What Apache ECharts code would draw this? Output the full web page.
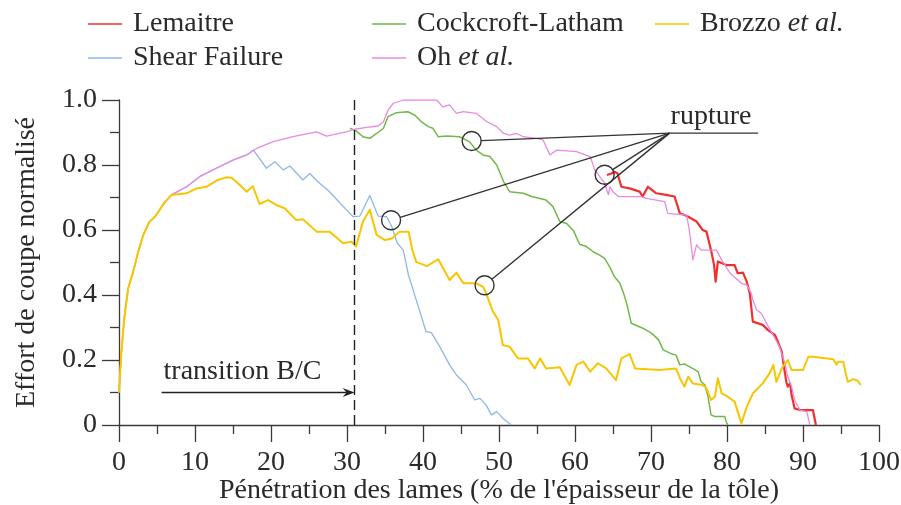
<!DOCTYPE html>
<html>
<head>
<meta charset="utf-8">
<script src="https://cdn.jsdelivr.net/npm/echarts@6/dist/echarts.min.js"></script>
<style>
  html, body { margin: 0; padding: 0; background: #fff; }
  #chart { width: 901px; height: 505px; }
</style>
</head>
<body>
<div id="chart"></div>
<script>
// ---- data: blade penetration (%) vs normalised cutting force ----
const lemaitre = [[64.2,0.769],[64.8,0.774],[65.2,0.779],[65.6,0.774],[66.1,0.733],[67.2,0.728],[68.5,0.718],[68.9,0.703],[69.6,0.733],[70.7,0.713],[72.0,0.708],[73.1,0.703],[73.8,0.651],[74.4,0.646],[74.9,0.641],[76.0,0.626],[76.8,0.6],[77.3,0.595],[77.9,0.538],[78.3,0.492],[78.5,0.441],[78.8,0.503],[79.9,0.492],[81.0,0.492],[81.4,0.467],[82.1,0.469],[82.6,0.441],[83.0,0.405],[83.4,0.318],[83.6,0.313],[84.7,0.308],[85.4,0.292],[86.3,0.277],[86.7,0.256],[87.2,0.226],[87.5,0.179],[87.8,0.133],[88.0,0.118],[88.3,0.128],[88.5,0.092],[88.9,0.051],[89.6,0.046],[91.3,0.046],[91.7,0.0]];

const shearFailure = [[0,0.1],[0.3,0.22],[0.7,0.33],[1.2,0.42],[1.9,0.475],[2.5,0.53],[3.2,0.585],[4.0,0.625],[4.7,0.64],[5.3,0.66],[6.0,0.685],[6.9,0.708],[8.9,0.733],[10.6,0.764],[12.8,0.79],[15.0,0.815],[16.8,0.831],[17.7,0.846],[19.4,0.79],[20.5,0.81],[21.6,0.785],[22.5,0.797],[24.2,0.754],[25.1,0.774],[26.4,0.744],[27.6,0.72],[28.8,0.69],[29.8,0.665],[30.8,0.641],[31.7,0.643],[33.0,0.706],[34.1,0.643],[35.2,0.641],[35.9,0.61],[36.6,0.56],[37.4,0.538],[38.1,0.46],[38.3,0.446],[39.1,0.385],[39.8,0.333],[40.4,0.287],[41.1,0.284],[42.2,0.241],[43.5,0.185],[44.4,0.154],[45.7,0.123],[46.8,0.077],[47.5,0.082],[48.3,0.062],[49.0,0.031],[49.7,0.041],[50.5,0.021],[51.6,0.0]];

const cockcroftLatham = [[30.4,0.913],[31.2,0.905],[32.1,0.887],[33.0,0.882],[33.9,0.897],[34.8,0.913],[35.4,0.949],[36.5,0.961],[38.0,0.964],[38.9,0.954],[39.8,0.933],[40.7,0.918],[41.3,0.913],[42.0,0.887],[43.1,0.889],[44.8,0.887],[46.1,0.872],[47.0,0.846],[47.9,0.831],[48.8,0.826],[49.7,0.8],[50.6,0.749],[51.4,0.718],[53.2,0.713],[54.3,0.703],[56.2,0.692],[57.1,0.672],[58.0,0.626],[58.9,0.62],[59.8,0.598],[60.6,0.556],[61.5,0.549],[62.4,0.533],[63.3,0.522],[63.9,0.513],[64.6,0.485],[65.2,0.456],[65.9,0.436],[66.4,0.405],[66.8,0.374],[67.4,0.313],[69.0,0.297],[70.1,0.282],[71.0,0.262],[71.6,0.231],[72.5,0.221],[73.3,0.215],[73.8,0.185],[74.4,0.188],[75.1,0.179],[76.2,0.164],[76.6,0.133],[77.1,0.123],[77.5,0.087],[77.9,0.031],[78.4,0.026],[79.7,0.026],[79.9,0.01],[80.1,0.0]];

const brozzo = [[0,0.1],[0.3,0.22],[0.7,0.33],[1.2,0.42],[1.9,0.475],[2.5,0.53],[3.2,0.585],[4.0,0.625],[4.7,0.64],[5.3,0.66],[6.0,0.685],[6.9,0.708],[8.9,0.713],[10.2,0.728],[11.5,0.733],[13.0,0.754],[14.1,0.762],[14.8,0.761],[15.4,0.749],[16.8,0.718],[17.6,0.735],[18.5,0.68],[19.6,0.692],[20.7,0.677],[21.8,0.667],[23.3,0.631],[24.2,0.633],[26.0,0.595],[27.7,0.595],[29.5,0.559],[30.6,0.564],[31.2,0.549],[32.1,0.626],[33.0,0.662],[33.9,0.585],[35.0,0.569],[35.9,0.574],[36.9,0.595],[38.1,0.595],[38.6,0.538],[39.1,0.502],[40.5,0.489],[42.0,0.51],[43.5,0.446],[44.4,0.469],[45.3,0.436],[47.0,0.436],[47.9,0.426],[48.3,0.405],[49.2,0.349],[49.9,0.323],[50.5,0.246],[51.4,0.241],[52.5,0.205],[53.8,0.205],[54.7,0.174],[55.4,0.205],[56.2,0.174],[58.0,0.178],[59.3,0.123],[60.2,0.185],[61.1,0.195],[62.0,0.164],[63.0,0.19],[64.1,0.174],[65.4,0.138],[66.1,0.205],[67.2,0.218],[67.9,0.174],[71.1,0.169],[73.3,0.174],[73.8,0.144],[74.4,0.118],[74.9,0.149],[75.5,0.128],[76.8,0.123],[77.3,0.113],[77.9,0.077],[78.4,0.087],[78.8,0.144],[79.3,0.097],[80.1,0.087],[81.0,0.072],[81.9,0.005],[82.6,0.056],[83.4,0.097],[84.7,0.128],[85.6,0.159],[86.1,0.185],[86.5,0.133],[87.2,0.174],[88.0,0.2],[88.5,0.169],[90.0,0.169],[90.7,0.21],[91.3,0.21],[94.0,0.202],[94.4,0.185],[94.6,0.195],[95.3,0.195],[95.6,0.161],[95.9,0.133],[96.6,0.141],[97.2,0.136],[97.6,0.123]];

const ohEtAl = [[0,0.1],[0.3,0.22],[0.7,0.33],[1.2,0.42],[1.9,0.475],[2.5,0.53],[3.2,0.585],[4.0,0.625],[4.7,0.64],[5.3,0.66],[6.0,0.685],[6.9,0.708],[8.9,0.733],[10.6,0.764],[12.8,0.79],[15.0,0.815],[16.8,0.831],[18.1,0.851],[20.3,0.872],[22.9,0.887],[26.0,0.902],[27.3,0.889],[29.9,0.902],[31.0,0.91],[32.6,0.916],[34.1,0.92],[34.8,0.933],[35.4,0.969],[36.1,0.99],[37.4,1.0],[41.8,1.0],[42.6,0.979],[43.5,0.985],[44.4,0.959],[45.3,0.964],[47.0,0.959],[48.4,0.933],[49.7,0.918],[50.6,0.897],[51.4,0.892],[52.3,0.897],[53.2,0.887],[54.9,0.882],[55.8,0.877],[56.7,0.831],[57.6,0.846],[60.2,0.841],[62.0,0.826],[62.6,0.785],[63.9,0.744],[64.4,0.708],[64.6,0.733],[65.0,0.718],[65.7,0.703],[68.7,0.703],[69.4,0.697],[71.8,0.687],[72.2,0.651],[74.7,0.646],[75.1,0.59],[75.5,0.508],[76.0,0.554],[76.6,0.538],[78.6,0.538],[79.3,0.508],[80.4,0.467],[81.2,0.451],[81.9,0.436],[82.6,0.431],[83.2,0.405],[83.4,0.385],[83.9,0.354],[84.5,0.344],[85.2,0.313],[86.3,0.267],[86.9,0.241],[87.6,0.19],[88.0,0.149],[88.5,0.118],[88.9,0.077],[89.6,0.046],[90.5,0.041],[90.9,0.0]];

// points where each criterion predicts fracture (circled)
const ruptureMarks = [[46.4,0.874],[63.9,0.77],[35.8,0.63],[48.1,0.43]];
const ruptureHub = [72.45, 0.898];
const ruptureUnderlineEnd = 84.1;
const transitionX = 31.0;
const transitionArrowStart = 5.6;
const transitionY = 0.1;

const xTicks = { min: 0, max: 100, interval: 10 };
const yTicks = { min: 0, max: 1, interval: 0.2 };

// ---- styling ----
const FONT = '"Liberation Serif", "Times New Roman", serif';
const FS = 28;
const INK = '#2a2a2a';
const AXIS = '#3a3a3a';
const C = {
  lemaitre: '#f0302e',
  shear: '#90b6ea',
  cockcroft: '#72b84a',
  brozzo: '#f7c600',
  oh: '#e98ae0'
};

const chart = echarts.init(document.getElementById('chart'), null, { renderer: 'canvas' });

const legendText = {
  fontFamily: FONT, fontSize: FS, color: INK, lineHeight: 27,
  rich: {
    n: { fontFamily: FONT, fontSize: FS, color: INK, lineHeight: 27, padding: [0, 0, 0, 6] },
    it: { fontFamily: FONT, fontSize: FS, fontStyle: 'italic', color: INK, lineHeight: 27 }
  }
};
const legendFormatter = name => {
  const m = name.match(/^(.*?)\s*et al\.$/);
  return m ? '{n|' + m[1] + ' }{it|et al.}' : '{n|' + name + '}';
};
const legendBase = {
  orient: 'vertical', top: 10, itemWidth: 34, itemHeight: 1.6, itemGap: 6,
  icon: 'rect', textStyle: legendText, formatter: legendFormatter,
  selectedMode: false, padding: 0
};

function lineSeries(name, data, color, width, z) {
  return {
    name, type: 'line', data, color, z,
    showSymbol: false, symbol: 'none', smooth: false,
    lineStyle: { color, width, join: 'round' },
    emphasis: { disabled: true }, silent: true
  };
}

const axisCommon = {
  axisLine: { show: true, lineStyle: { color: AXIS, width: 1.3 } },
  axisTick: { show: true, inside: false, length: 17, lineStyle: { color: AXIS, width: 1.3 } },
  minorTick: { show: true, splitNumber: 2, length: 9, lineStyle: { color: AXIS, width: 1.3 } },
  splitLine: { show: false },
  nameMoveOverlap: false,
  nameTextStyle: { fontFamily: FONT, fontSize: FS, color: INK }
};

const ohSeries = lineSeries('Oh et al.', ohEtAl, C.oh, 1.3, 3);
ohSeries.markLine = {
  silent: true, symbol: 'none', animation: false,
  label: { show: false },
  lineStyle: { color: '#222', width: 1.4, type: [10, 5] },
  data: [{ xAxis: transitionX }]
};

chart.setOption({
  animation: false,
  backgroundColor: '#ffffff',
  grid: { left: 119, right: 22, top: 100, bottom: 80, containLabel: false, outerBoundsMode: 'none' },
  legend: [
    Object.assign({ left: 88, data: ['Lemaitre', 'Shear Failure'] }, legendBase),
    Object.assign({ left: 372, data: ['Cockcroft-Latham', 'Oh et al.'] }, legendBase),
    Object.assign({ left: 655, data: ['Brozzo et al.'] }, legendBase)
  ],
  xAxis: Object.assign({
    type: 'value', min: xTicks.min, max: xTicks.max, interval: xTicks.interval,
    name: "Pénétration des lames (% de l'épaisseur de la tôle)",
    nameLocation: 'middle', nameGap: 52,
    axisLabel: { fontFamily: FONT, fontSize: FS, color: INK, margin: 24 }
  }, axisCommon),
  yAxis: Object.assign({
    type: 'value', min: yTicks.min, max: yTicks.max, interval: yTicks.interval,
    name: 'Effort de coupe normalisé',
    nameLocation: 'middle', nameGap: 78,
    axisLabel: {
      fontFamily: FONT, fontSize: FS, color: INK, margin: 22,
      formatter: v => (v === 0 ? '0' : v.toFixed(1))
    }
  }, axisCommon),
  series: [
    lineSeries('Lemaitre', lemaitre, C.lemaitre, 2.2, 2),
    lineSeries('Shear Failure', shearFailure, C.shear, 1.3, 2),
    lineSeries('Cockcroft-Latham', cockcroftLatham, C.cockcroft, 1.5, 2),
    lineSeries('Brozzo et al.', brozzo, C.brozzo, 2.0, 4),
    ohSeries
  ]
});

// ---- annotations placed through the grid's coordinate system ----
function toPx(p) { return chart.convertToPixel({ gridIndex: 0 }, p); }

const R = 9.5;
const stroke = { stroke: '#333', lineWidth: 1.4, fill: null };
const hub = toPx(ruptureHub);
const hubEnd = toPx([ruptureUnderlineEnd, ruptureHub[1]]);
const graphics = [];

ruptureMarks.forEach(m => {
  const c = toPx(m);
  const dx = hub[0] - c[0], dy = hub[1] - c[1];
  const len = Math.hypot(dx, dy);
  const s = [c[0] + R * dx / len, c[1] + R * dy / len];
  graphics.push({ type: 'circle', z: 100, shape: { cx: c[0], cy: c[1], r: R }, style: Object.assign({}, stroke) });
  graphics.push({ type: 'line', z: 100, shape: { x1: s[0], y1: s[1], x2: hub[0], y2: hub[1] }, style: Object.assign({}, stroke) });
});
graphics.push({ type: 'line', z: 100, shape: { x1: hub[0], y1: hub[1], x2: hubEnd[0], y2: hubEnd[1] }, style: Object.assign({}, stroke) });
graphics.push({
  type: 'text', z: 100, x: hub[0] + 1, y: hub[1] - 3,
  style: { text: 'rupture', font: FS + 'px ' + FONT, fill: INK, align: 'left', verticalAlign: 'bottom' }
});

const a0 = toPx([transitionArrowStart, transitionY]);
const a1 = toPx([transitionX, transitionY]);
graphics.push({ type: 'line', z: 100, shape: { x1: a0[0], y1: a0[1], x2: a1[0] - 4, y2: a1[1] }, style: { stroke: '#222', lineWidth: 1.4 } });
graphics.push({
  type: 'polygon', z: 100,
  shape: { points: [[a1[0], a1[1]], [a1[0] - 12, a1[1] - 4.5], [a1[0] - 8, a1[1]], [a1[0] - 12, a1[1] + 4.5]] },
  style: { fill: '#222' }
});
graphics.push({
  type: 'text', z: 100, x: a0[0] + 2, y: a1[1] - 7,
  style: { text: 'transition B/C', font: FS + 'px ' + FONT, fill: INK, align: 'left', verticalAlign: 'bottom' }
});

chart.setOption({ graphic: graphics });
</script>
</body>
</html>
